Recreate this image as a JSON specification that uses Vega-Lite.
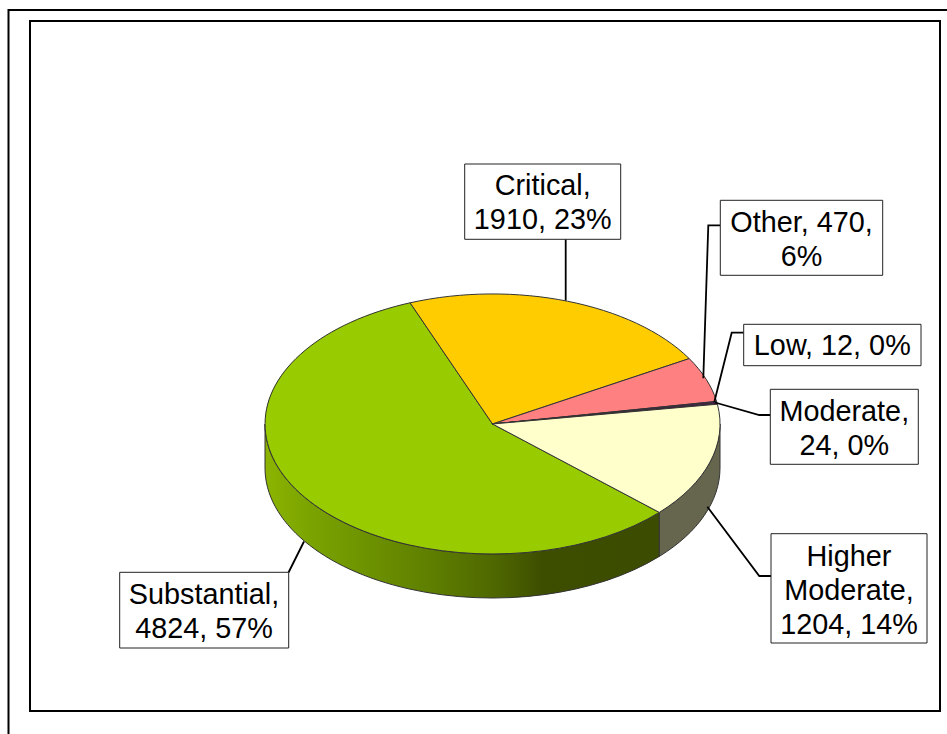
{"$schema":"https://vega.github.io/schema/vega-lite/v6.json","width":947,"height":734,"padding":0,"autosize":{"type":"none"},"background":"white","config":{"view":{"stroke":null}},
"data":{"values":[
{"name":"Substantial","value":4824,"share":"57%","label":"Substantial,\n4824, 57%"},
{"name":"Critical","value":1910,"share":"23%","label":"Critical,\n1910, 23%"},
{"name":"Other","value":470,"share":"6%","label":"Other, 470,\n6%"},
{"name":"Low","value":12,"share":"0%","label":"Low, 12, 0%"},
{"name":"Moderate","value":24,"share":"0%","label":"Moderate,\n24, 0%"},
{"name":"Higher Moderate","value":1204,"share":"14%","label":"Higher\nModerate,\n1204, 14%"}
]},
"layer":[
{"data":{"values":[{"frame":"outer"}]},"mark":{"type":"rect","fill":"white","stroke":"black","strokeWidth":2,"clip":false},"encoding":{"x":{"value":8.5},"x2":{"value":970},"y":{"value":10},"y2":{"value":760}}},
{"data":{"values":[{"frame":"inner"}]},"mark":{"type":"rect","fill":"white","stroke":"black","strokeWidth":2,"clip":false},"encoding":{"x":{"value":30},"x2":{"value":940},"y":{"value":21},"y2":{"value":711}}},
{"transform":[{"filter":"datum.name==='Substantial'"}],"mark":{"type":"point","filled":true,"opacity":1,"x":492.5,"y":424,"size":4,"shape":"M166.8,88.4L166.8,132.4A227.5,130,0,0,1,-227.5,44L-227.5,0A227.5,130,0,0,0,166.8,88.4Z","stroke":"#333","strokeWidth":1,"fill":{"gradient":"linear","x1":0,"y1":0,"x2":1,"y2":0,"stops":[{"offset":0,"color":"#8cb400"},{"offset":0.11,"color":"#7ba400"},{"offset":0.41,"color":"#5f8000"},{"offset":0.58,"color":"#4f6800"},{"offset":0.705,"color":"#3d4e00"},{"offset":1,"color":"#3c4c00"}]}},"encoding":{}},
{"transform":[{"filter":"datum.name==='Higher Moderate'"}],"mark":{"type":"point","filled":true,"opacity":1,"x":492.5,"y":424,"size":4,"shape":"M227.5,0L227.5,44A227.5,130,0,0,1,166.8,132.4L166.8,88.4A227.5,130,0,0,0,227.5,0Z","stroke":"#333","strokeWidth":1,"fill":"#66664e"},"encoding":{}},
{"mark":{"type":"point","filled":true,"opacity":1,"x":492.5,"y":424,"size":4,"stroke":"#333","strokeWidth":1},"encoding":{
"shape":{"field":"name","type":"nominal","legend":null,"scale":{"domain":["Substantial","Critical","Other","Low","Moderate","Higher Moderate"],"range":["M0,0L166.8,88.4A227.5,130,0,1,1,-82.4,-121.2Z","M0,0L-82.4,-121.2A227.5,130,0,0,1,196.7,-65.4Z","M0,0L196.7,-65.4A227.5,130,0,0,1,224.1,-22.6Z","M0,0L224.1,-22.6A227.5,130,0,0,1,224.5,-21.2Z","M0,0L224.5,-21.2A227.5,130,0,0,1,224.9,-19.8Z","M0,0L224.9,-19.8A227.5,130,0,0,1,166.8,88.4Z"]}},
"fill":{"field":"name","type":"nominal","legend":null,"scale":{"domain":["Substantial","Critical","Other","Low","Moderate","Higher Moderate"],"range":["#99CC00","#FFCC00","#FF8080","#660066","#660066","#FFFFCC"]}}}},
{"mark":{"type":"point","filled":false,"opacity":1,"x":0,"y":0,"size":4,"stroke":"black","strokeWidth":1.8,"fill":"transparent"},"encoding":{
"shape":{"field":"name","type":"nominal","legend":null,"scale":{"domain":["Substantial","Critical","Other","Low","Moderate","Higher Moderate"],"range":["M288.5,572.5L304,541.5","M565.7,239.3L565.7,300.5","M720.3,225.3L708.3,225.3L703.3,378.3","M743.7,332.7L731.7,332.7L714.3,402","M770.3,415L759.3,415L715,402.5","M771,576L759.3,576L707.3,506.7"]}}}},
{"mark":{"type":"point","filled":true,"opacity":1,"x":0,"y":0,"size":4,"stroke":"#222","strokeWidth":1,"fill":"white"},"encoding":{
"shape":{"field":"name","type":"nominal","legend":null,"scale":{"domain":["Substantial","Critical","Other","Low","Moderate","Higher Moderate"],"range":["M119.7,572.3H288.7V648H119.7Z","M464.7,164H620.7V239.3H464.7Z","M720.3,200.3H882.7V275.3H720.3Z","M743.7,324.3H921V365.7H743.7Z","M770.3,389.3H918.3V464.3H770.3Z","M771,533.7H927V643H771Z"]}}}},
{"mark":{"type":"text","font":"Liberation Sans","fontSize":28.8,"lineHeight":34,"lineBreak":"\n","align":"center","baseline":"alphabetic","color":"black"},"encoding":{
"text":{"field":"label"},
"x":{"field":"value","type":"quantitative","axis":null,"scale":{"domain":[12,24,470,1204,1910,4824],"range":[832.3,844.3,801.5,849,542.7,204],"nice":false,"zero":false}},
"y":{"field":"value","type":"quantitative","axis":null,"scale":{"domain":[12,24,470,1204,1910,4824],"range":[355.3,420.5,231.7,565.7,195,603.5],"nice":false,"zero":false}}}}
],
"resolve":{"scale":{"shape":"independent","fill":"independent"}}}
